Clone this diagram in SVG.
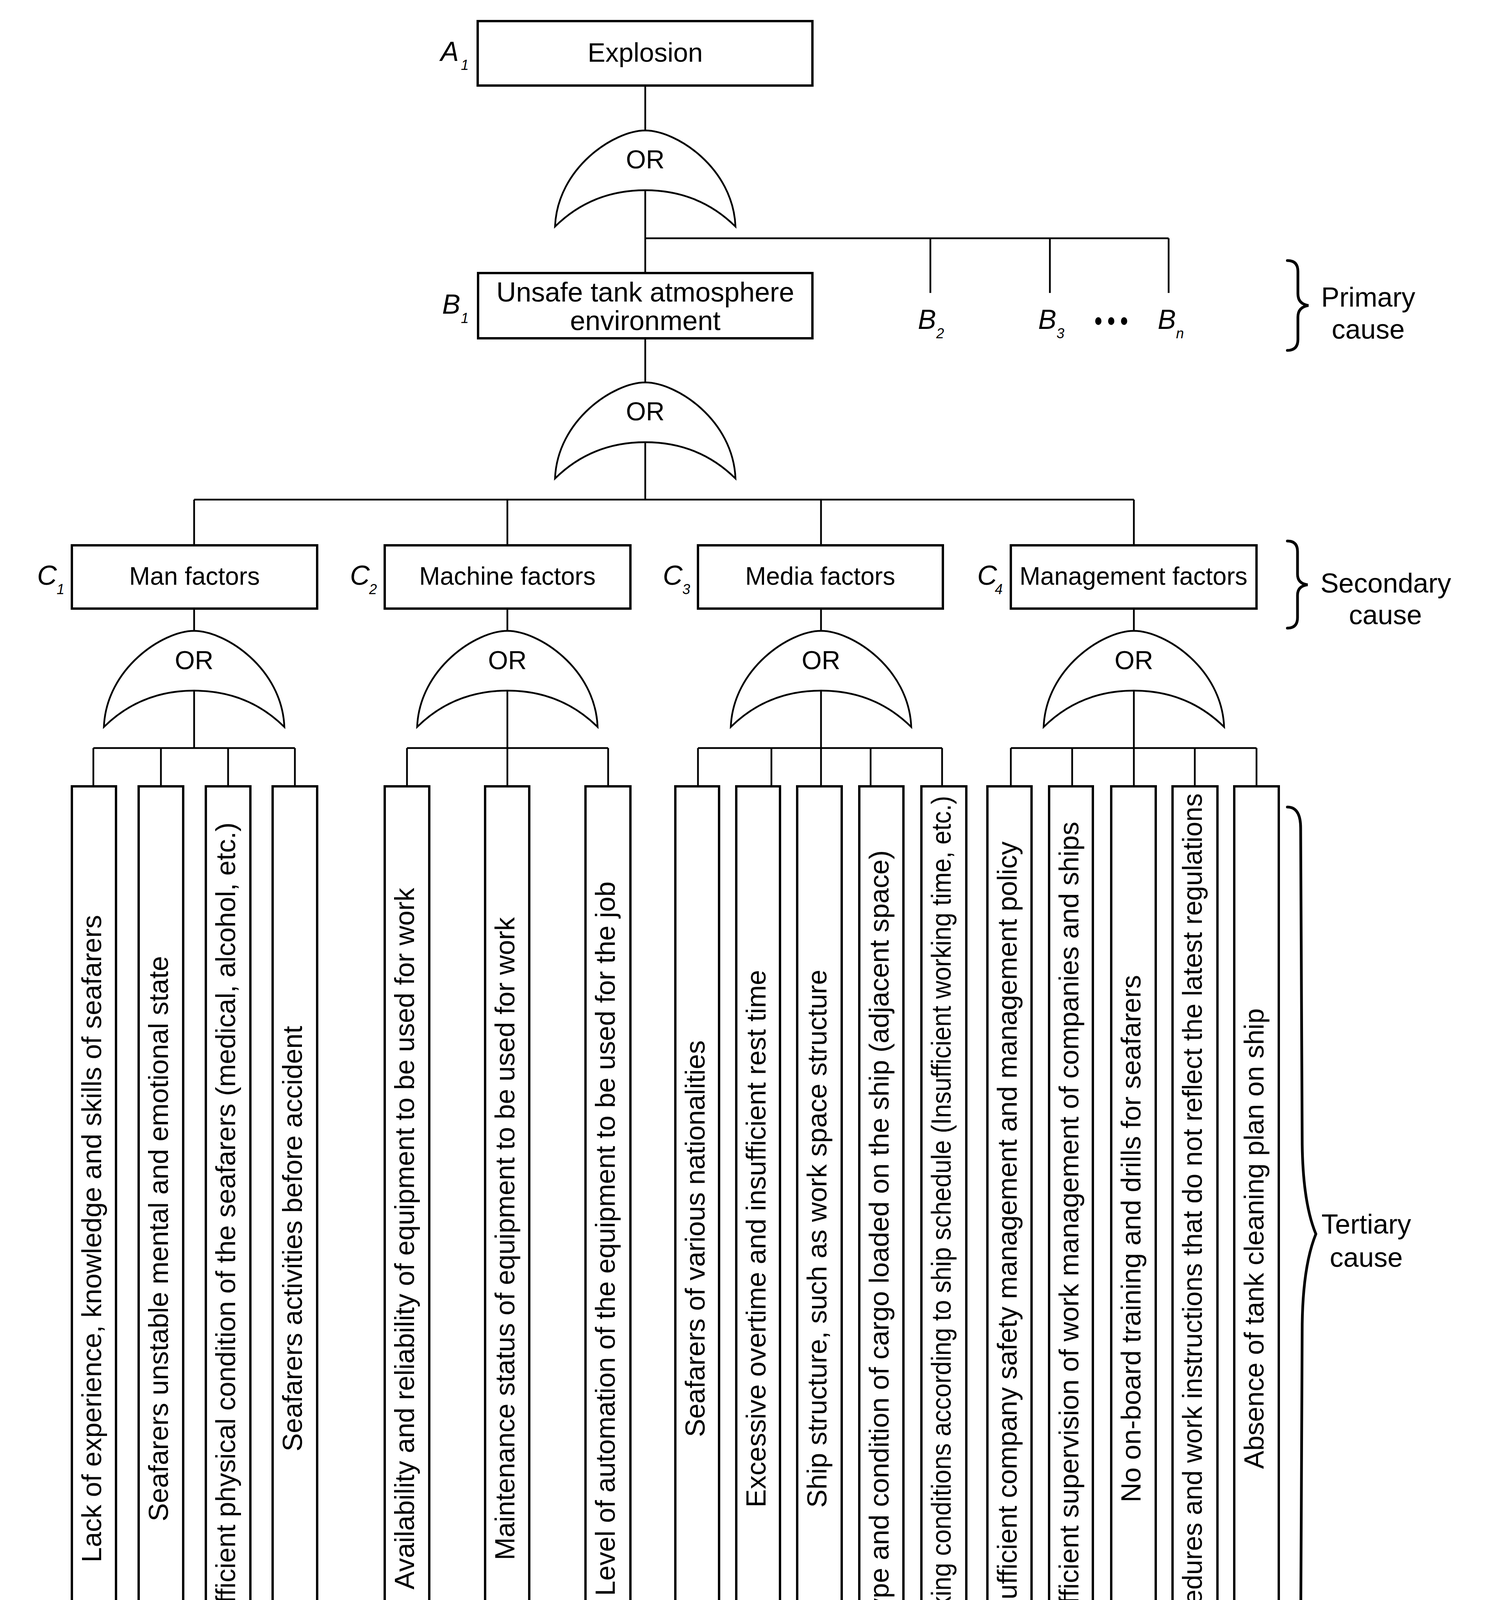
<svg xmlns="http://www.w3.org/2000/svg" width="3802" height="4479" viewBox="0 0 3802 4479">
<style>
.box{fill:#fff;stroke:#000;stroke-width:6}
.ln{fill:none;stroke:#000;stroke-width:4.5}
.gate{fill:#fff;stroke:#000;stroke-width:4.5;stroke-linejoin:miter}
.brace{fill:none;stroke:#000;stroke-width:7;stroke-linecap:round}
.t{font-family:"Liberation Sans",Arial,sans-serif;fill:#000}
.m{font-size:70px;text-anchor:middle}
.c{font-size:64px;text-anchor:middle}
.or{font-size:66px;text-anchor:middle}
.dt{font-size:70px;text-anchor:middle}
.lab{font-size:70px;font-style:italic}
.sub{font-size:36px;font-style:italic}
.dl{font-size:60px;font-style:italic}
.ds{font-size:30px;font-style:italic}
</style>
<rect width="3802" height="4479" fill="#fff"/>
<g id="connectors">
<path class="ln" d="M1652,219V334M1652,487V699M1652,610H2992M2382,610V750M2688,610V750M2992,610V750M1652,866V979M1652,1132V1279M497,1279H2903M497,1279V1396M1299,1279V1396M2102,1279V1396M2903,1279V1396M497,1558V1615M1299,1558V1615M2102,1558V1615M2903,1558V1615M497,1768V1915M1299,1768V1915M2102,1768V1915M2903,1768V1915M239,1915H755M1042,1915H1557M1787,1915H2412M2588,1915H3217M239,1915V2013M412,1915V2013M584,1915V2013M755,1915V2013M1042,1915V2013M1299,1915V2013M1557,1915V2013M1787,1915V2013M1975,1915V2013M2102,1915V2013M2229,1915V2013M2412,1915V2013M2588,1915V2013M2745,1915V2013M2903,1915V2013M3059,1915V2013M3217,1915V2013"/>
</g>
<g id="A1">
<rect class="box" x="1223" y="54" width="857" height="165"/>
<text class="t m" x="1652" y="158" style="font-size:68px">Explosion</text>
<text class="t lab" x="1128" y="156">A</text><text class="t sub" x="1180" y="179">1</text>
</g>
<g id="gate0"><path class="gate" d="M1421,580 C1427,430 1572,334 1652,334 C1732,334 1877,430 1883,580 C1812,510 1732,487 1652,487 C1572,487 1492,510 1421,580 Z"/><text class="t or" x="1652" y="431">OR</text></g>
<g id="B1">
<rect class="box" x="1224" y="699" width="856" height="167"/>
<text class="t m" x="1652" y="772">Unsafe tank atmosphere</text>
<text class="t m" x="1652" y="845">environment</text>
<text class="t lab" x="1132" y="803">B</text><text class="t sub" x="1180" y="827">1</text>
</g>
<g id="B2"><text class="t lab" x="2350" y="842">B</text><text class="t sub" x="2397" y="866">2</text></g>
<g id="B3"><text class="t lab" x="2658" y="842">B</text><text class="t sub" x="2705" y="866">3</text></g>
<g id="dots"><ellipse cx="2812" cy="822" rx="8" ry="10"/><ellipse cx="2845" cy="822" rx="8" ry="10"/><ellipse cx="2878" cy="822" rx="8" ry="10"/></g>
<g id="Bn"><text class="t lab" x="2964" y="842">B</text><text class="t sub" x="3011" y="866">n</text></g>
<g id="gate1"><path class="gate" d="M1421,1225 C1427,1075 1572,979 1652,979 C1732,979 1877,1075 1883,1225 C1812,1155 1732,1132 1652,1132 C1572,1132 1492,1155 1421,1225 Z"/><text class="t or" x="1652" y="1076">OR</text></g>
<g id="C1"><rect class="box" x="184" y="1396" width="628" height="162"/><text class="t c" x="498" y="1497">Man factors</text><text class="t lab" x="95" y="1497">C</text><text class="t sub" x="145" y="1521">1</text></g>
<g id="C2"><rect class="box" x="985" y="1396" width="629" height="162"/><text class="t c" x="1299" y="1497">Machine factors</text><text class="t lab" x="896" y="1497">C</text><text class="t sub" x="945" y="1521">2</text></g>
<g id="C3"><rect class="box" x="1787" y="1396" width="627" height="162"/><text class="t c" x="2100" y="1497">Media factors</text><text class="t lab" x="1697" y="1497">C</text><text class="t sub" x="1747" y="1521">3</text></g>
<g id="C4"><rect class="box" x="2588" y="1396" width="629" height="162"/><text class="t c" x="2902" y="1497">Management factors</text><text class="t lab" x="2502" y="1497">C</text><text class="t sub" x="2547" y="1521">4</text></g>
<g id="gateC1"><path class="gate" d="M266,1861 C272,1711 417,1615 497,1615 C577,1615 722,1711 728,1861 C657,1791 577,1768 497,1768 C417,1768 337,1791 266,1861 Z"/><text class="t or" x="497" y="1713">OR</text></g>
<g id="gateC2"><path class="gate" d="M1068,1861 C1074,1711 1219,1615 1299,1615 C1379,1615 1524,1711 1530,1861 C1459,1791 1379,1768 1299,1768 C1219,1768 1139,1791 1068,1861 Z"/><text class="t or" x="1299" y="1713">OR</text></g>
<g id="gateC3"><path class="gate" d="M1871,1861 C1877,1711 2022,1615 2102,1615 C2182,1615 2327,1711 2333,1861 C2262,1791 2182,1768 2102,1768 C2022,1768 1942,1791 1871,1861 Z"/><text class="t or" x="2102" y="1713">OR</text></g>
<g id="gateC4"><path class="gate" d="M2672,1861 C2678,1711 2823,1615 2903,1615 C2983,1615 3128,1711 3134,1861 C3063,1791 2983,1768 2903,1768 C2823,1768 2743,1791 2672,1861 Z"/><text class="t or" x="2903" y="1713">OR</text></g>
<g id="D11"><rect class="box" x="184" y="2013" width="113" height="2316"/><text class="t dt" transform="translate(259,3171) rotate(-90)">Lack of experience, knowledge and skills of seafarers</text><text class="t dl" x="224" y="4390">D</text><text class="t ds" x="265" y="4414">11</text></g>
<g id="D12"><rect class="box" x="355" y="2013" width="114" height="2316"/><text class="t dt" transform="translate(430,3171) rotate(-90)">Seafarers unstable mental and emotional state</text><text class="t dl" x="376" y="4390">D</text><text class="t ds" x="417" y="4414">12</text></g>
<g id="D13"><rect class="box" x="527" y="2013" width="114" height="2316"/><text class="t dt" transform="translate(602,3171) rotate(-90)">Insufficient physical condition of the seafarers (medical, alcohol, etc.)</text><text class="t dl" x="548" y="4390">D</text><text class="t ds" x="589" y="4414">13</text></g>
<g id="D14"><rect class="box" x="698" y="2013" width="114" height="2316"/><text class="t dt" transform="translate(773,3171) rotate(-90)">Seafarers activities before accident</text><text class="t dl" x="717" y="4390">D</text><text class="t ds" x="758" y="4414">14</text></g>
<g id="D21"><rect class="box" x="985" y="2013" width="114" height="2316"/><text class="t dt" transform="translate(1060,3171) rotate(-90)">Availability and reliability of equipment to be used for work</text><text class="t dl" x="1006" y="4390">D</text><text class="t ds" x="1044" y="4414">21</text></g>
<g id="D22"><rect class="box" x="1242" y="2013" width="113" height="2316"/><text class="t dt" transform="translate(1317,3171) rotate(-90)">Maintenance status of equipment to be used for work</text><text class="t dl" x="1263" y="4390">D</text><text class="t ds" x="1302" y="4414">22</text></g>
<g id="D23"><rect class="box" x="1499" y="2013" width="115" height="2316"/><text class="t dt" transform="translate(1574,3171) rotate(-90)">Level of automation of the equipment to be used for the job</text><text class="t dl" x="1521" y="4390">D</text><text class="t ds" x="1560" y="4414">23</text></g>
<g id="D31"><rect class="box" x="1729" y="2013" width="112" height="2316"/><text class="t dt" transform="translate(1804,3171) rotate(-90)">Seafarers of various nationalities</text><text class="t dl" x="1750" y="4390">D</text><text class="t ds" x="1788" y="4414">31</text></g>
<g id="D32"><rect class="box" x="1885" y="2013" width="112" height="2316"/><text class="t dt" transform="translate(1960,3171) rotate(-90)">Excessive overtime and insufficient rest time</text><text class="t dl" x="1918" y="4390">D</text><text class="t ds" x="1956" y="4414">32</text></g>
<g id="D33"><rect class="box" x="2041" y="2013" width="114" height="2316"/><text class="t dt" transform="translate(2116,3171) rotate(-90)">Ship structure, such as work space structure</text><text class="t dl" x="2075" y="4390">D</text><text class="t ds" x="2114" y="4414">33</text></g>
<g id="D34"><rect class="box" x="2200" y="2013" width="113" height="2316"/><text class="t dt" transform="translate(2275,3171) rotate(-90)">Type and condition of cargo loaded on the ship (adjacent space)</text><text class="t dl" x="2232" y="4390">D</text><text class="t ds" x="2273" y="4414">34</text></g>
<g id="D35"><rect class="box" x="2359" y="2013" width="115" height="2316"/><text class="t dt" transform="translate(2434,3136) rotate(-90)" textLength="2197" lengthAdjust="spacingAndGlyphs">Working conditions according to ship schedule (Insufficient working time, etc.)</text><text class="t dl" x="2403" y="4390">D</text><text class="t ds" x="2442" y="4414">35</text></g>
<g id="D41"><rect class="box" x="2528" y="2013" width="113" height="2316"/><text class="t dt" transform="translate(2603,3171) rotate(-90)">Insufficient company safety management and management policy</text><text class="t dl" x="2564" y="4390">D</text><text class="t ds" x="2600" y="4414">41</text></g>
<g id="D42"><rect class="box" x="2686" y="2013" width="112" height="2316"/><text class="t dt" transform="translate(2761,3171) rotate(-90)">Insufficient supervision of work management of companies and ships</text><text class="t dl" x="2720" y="4390">D</text><text class="t ds" x="2761" y="4414">42</text></g>
<g id="D43"><rect class="box" x="2845" y="2013" width="114" height="2316"/><text class="t dt" transform="translate(2920,3171) rotate(-90)">No on-board training and drills for seafarers</text><text class="t dl" x="2879" y="4390">D</text><text class="t ds" x="2918" y="4414">43</text></g>
<g id="D44"><rect class="box" x="3002" y="2013" width="115" height="2316"/><text class="t dt" transform="translate(3077,3140) rotate(-90)" textLength="2218" lengthAdjust="spacingAndGlyphs">Procedures and work instructions that do not reflect the latest regulations</text><text class="t dl" x="3037" y="4390">D</text><text class="t ds" x="3078" y="4414">44</text></g>
<g id="D45"><rect class="box" x="3160" y="2013" width="114" height="2316"/><text class="t dt" transform="translate(3235,3171) rotate(-90)">Absence of tank cleaning plan on ship</text><text class="t dl" x="3183" y="4390">D</text><text class="t ds" x="3219" y="4414">45</text></g>
<g id="primary">
<path class="brace" d="M3296,667 Q3323,667 3323,695 L3323,752 Q3323,778 3350,782 Q3323,786 3323,812 L3323,869 Q3323,897 3296,897"/>
<text class="t m" x="3503" y="785">Primary</text><text class="t m" x="3503" y="867">cause</text>
</g>
<g id="secondary">
<path class="brace" d="M3296,1385 Q3322,1385 3322,1412 L3322,1470 Q3322,1494 3348,1497 Q3322,1500 3322,1524 L3322,1581 Q3322,1608 3296,1608"/>
<text class="t m" x="3548" y="1517">Secondary</text><text class="t m" x="3547" y="1598">cause</text>
</g>
<g id="tertiary">
<path class="brace" d="M3296,2066 Q3330,2066 3330,2120 L3334,2930 Q3336,3080 3369,3159 Q3336,3240 3334,3390 L3330,4200 Q3330,4252 3296,4252"/>
<text class="t m" x="3498" y="3158">Tertiary</text><text class="t m" x="3498" y="3243">cause</text>
</g>
</svg>
